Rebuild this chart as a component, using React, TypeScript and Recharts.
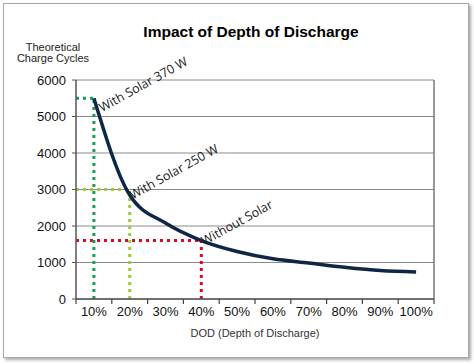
import { CartesianGrid, Label, Line, LineChart, ReferenceDot, ReferenceLine, XAxis, YAxis } from "recharts";

const dodPercent = [10, 20, 30, 40, 50, 60, 70, 80, 90, 100];
const chargeCycles = [5500, 2850, 2080, 1600, 1300, 1100, 985, 870, 780, 740];
const yTicks = [0, 1000, 2000, 3000, 4000, 5000, 6000];
const bandEdges = [5, 15, 25, 35, 45, 55, 65, 75, 85, 95, 105];

const markers = [
  { dod: 10, cycles: 5500, top: 5500, color: "#16a05a", text: "With Solar 370 W", dx: 8, dy: 14 },
  { dod: 20, cycles: 3000, top: 3000, color: "#9cc93e", text: "With Solar 250 W", dx: 3, dy: 10 },
  { dod: 40, cycles: 1600, top: 1600, color: "#d0101e", text: "Without Solar", dx: 3, dy: 5 }
];

const data = dodPercent.map((dod, i) => ({ dod, cycles: chargeCycles[i] }));

const axisFont = "'Liberation Sans', Arial, sans-serif";

function RotatedNote({ viewBox, text, dx, dy }: { viewBox?: { x: number; y: number }; text: string; dx: number; dy: number }) {
  if (!viewBox) return null;
  const x = viewBox.x + dx;
  const y = viewBox.y + dy;
  return (
    <text x={x} y={y} transform={`rotate(-29, ${x}, ${y})`} fill="#1a1a1a" fontSize={12.5} fontFamily="'Open Sans', sans-serif">
      {text}
    </text>
  );
}

// tick marks sit on band edges, labels in the middle of each band
function BandTick(props: any) {
  const { x, y, payload, index, width } = props;
  if (index === bandEdges.length - 1) return null;
  const half = Number(width) / (bandEdges.length - 1) / 2;
  return (
    <text x={x + half} y={y + 10} textAnchor="middle" fill="#111" fontSize={13} fontFamily={axisFont}>
      {`${payload.value + 5}%`}
    </text>
  );
}

export default function App() {
  return (
    <div style={{ position: "absolute", left: 0, top: 0, width: 474, height: 364, background: "#fff", fontFamily: axisFont }}>
      <div
        style={{
          position: "absolute",
          left: 3,
          top: 3,
          width: 464,
          height: 353,
          border: "1px solid #a8a8a8",
          boxShadow: "2px 2px 3px rgba(0,0,0,0.35)"
        }}
      />
      <div style={{ position: "absolute", left: 0, top: 23, width: 502, textAlign: "center", fontSize: 15.5, fontWeight: "bold", color: "#000" }}>
        Impact of Depth of Discharge
      </div>
      <div style={{ position: "absolute", left: 13, top: 42, width: 80, textAlign: "center", fontSize: 11, lineHeight: "11px", color: "#222" }}>
        Theoretical
        <br />
        Charge Cycles
      </div>
      <div style={{ position: "absolute", left: 0, top: 0 }}>
        <LineChart width={474} height={364} data={data} margin={{ top: 80, right: 40, bottom: 25, left: 0 }}>
          <CartesianGrid vertical={false} stroke="#8a8a8a" strokeWidth={1} />
          <XAxis
            dataKey="dod"
            type="number"
            domain={[5, 105]}
            ticks={bandEdges}
            tick={<BandTick />}
            tickSize={5}
            height={40}
            axisLine={{ stroke: "#555", strokeWidth: 1.5 }}
            tickLine={{ stroke: "#444", strokeWidth: 1.2 }}
          >
            <Label value="DOD (Depth of Discharge)" position="insideBottom" offset={2} fill="#333" fontSize={11} fontFamily={axisFont} />
          </XAxis>
          <YAxis
            domain={[0, 6000]}
            ticks={yTicks}
            width={76}
            tickSize={4}
            tickMargin={6}
            axisLine={{ stroke: "#555", strokeWidth: 1.5 }}
            tickLine={{ stroke: "#555" }}
            tick={{ fill: "#111", fontSize: 13, fontFamily: axisFont }}
          />
          <ReferenceLine x={105} stroke="#777" strokeWidth={1.5} />
          {markers.map((m) => (
            <ReferenceLine
              key={m.text + "h"}
              segment={[{ x: 5, y: m.cycles }, { x: m.dod, y: m.cycles }]}
              stroke={m.color}
              strokeWidth={3}
              strokeDasharray="3 4"
            />
          ))}
          {markers.map((m) => (
            <ReferenceLine
              key={m.text + "v"}
              segment={[{ x: m.dod, y: 0 }, { x: m.dod, y: m.top }]}
              stroke={m.color}
              strokeWidth={3}
              strokeDasharray="3 4"
            />
          ))}
          <Line type="monotone" dataKey="cycles" stroke="#0e2747" strokeWidth={3.5} dot={false} isAnimationActive={false} />
          {markers.map((m) => (
            <ReferenceDot
              key={m.text}
              x={m.dod}
              y={m.cycles}
              r={0}
              stroke="none"
              fill="none"
              label={(props: { viewBox?: { x: number; y: number } }) => <RotatedNote viewBox={props.viewBox} text={m.text} dx={m.dx} dy={m.dy} />}
            />
          ))}
        </LineChart>
      </div>
    </div>
  );
}
